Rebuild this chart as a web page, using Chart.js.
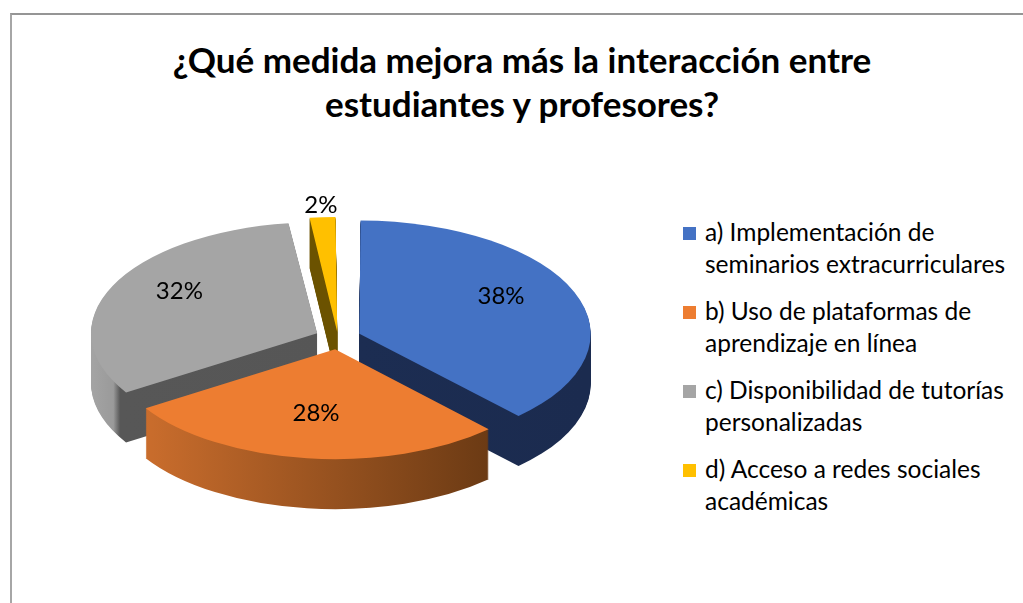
<!DOCTYPE html>
<html>
<head>
<meta charset="utf-8">
<script src="https://cdn.jsdelivr.net/npm/chart.js@4.4.0/dist/chart.umd.min.js"></script>
<style>
html,body{margin:0;padding:0;background:#fff;overflow:hidden;width:1023px;height:603px;}
#frame{position:absolute;left:10px;top:13px;width:1040px;height:620px;border-left:2px solid #a6a6a6;border-top:2px solid #959595;box-sizing:border-box;}
#title{position:absolute;left:10px;width:1024px;top:37px;text-align:center;font-family:Lato,"Open Sans",sans-serif;font-weight:bold;font-size:35px;line-height:44px;color:#000;}
#pieBox{position:absolute;left:38px;top:138px;width:600px;height:400px;}
#legend{position:absolute;left:683px;top:216px;font-family:Lato,"Open Sans",sans-serif;font-size:24.5px;line-height:31.5px;color:#000;}
.item{display:flex;align-items:flex-start;margin-bottom:16px;}
.box{width:13px;height:13px;margin-top:11px;margin-right:9px;flex:none;}
</style>
</head>
<body>
<div id="frame"></div>
<div id="title"></div>
<div id="pieBox"><canvas id="pieChart" width="600" height="400"></canvas></div>
<div id="legend"></div>
<script>
// ======================================
// Data
// ======================================

const titleLines = [
    "¿Qué medida mejora más la interacción entre",
    "estudiantes y profesores?"
];

const categories = [
    ["a) Implementación de", "seminarios extracurriculares"],
    ["b) Uso de plataformas de", "aprendizaje en línea"],
    ["c) Disponibilidad de tutorías", "personalizadas"],
    ["d) Acceso a redes sociales", "académicas"]
];

const percentages = [38, 28, 32, 2];

// ======================================
// Styles
// ======================================

const topColors = ["#4472C4", "#ED7D31", "#A5A5A5", "#FFC000"];

// side wall colours: [stop, colour] along the pie's width
const sideStops = [
    [[0, "#1d2f55"], [1, "#1b2b4f"]],
    [[0, "#d3722f"], [1, "#58300f"]],
    [[0, "#a3a3a3"], [0.045, "#9a9a9a"], [0.06, "#575757"], [1, "#555555"]],
    [[0, "#6b5200"], [1, "#6b5200"]]
];

const explode = [92, 92, 92, 49];
const tilt = 0.49;
const depth = 50;
const pieRadius = 224;
const labelLift = 10;
const labelFont = "24px Lato";

// ======================================
// Title + Legend (HTML)
// ======================================

document.getElementById("title").innerHTML =
    titleLines.join("<br>");

const legendEl = document.getElementById("legend");

categories.forEach((lines, i) => {

    const item = document.createElement("div");
    item.className = "item";

    const box = document.createElement("div");
    box.className = "box";
    box.style.background = topColors[i];

    const txt = document.createElement("div");
    txt.innerHTML = lines.join("<br>");

    item.appendChild(box);
    item.appendChild(txt);
    legendEl.appendChild(item);

});

// ======================================
// 3D pie plugin
// ======================================

function squash(ctx, cx, cy){

    ctx.translate(cx, cy);
    ctx.scale(1, tilt);
    ctx.translate(-cx, -cy);

}

function sideFill(ctx, arc, i){

    const g = ctx.createLinearGradient(
        arc.x - arc.outerRadius, 0,
        arc.x + arc.outerRadius, 0
    );

    sideStops[i].forEach(s => g.addColorStop(s[0], s[1]));

    return g;

}

const pie3d = {

    id: "pie3d",

    beforeDatasetsDraw(chart){

        const ctx = chart.ctx;
        const arcs = chart.getDatasetMeta(0).data;

        for(let d = depth; d >= 1; d--){

            arcs.forEach((arc, i) => {

                ctx.save();
                ctx.translate(0, d);
                squash(ctx, arc.x, arc.y);

                const saved = arc.options;
                arc.options = Object.assign({}, saved, {
                    backgroundColor: sideFill(ctx, arc, i),
                    borderWidth: 0
                });
                arc.draw(ctx);
                arc.options = saved;

                ctx.restore();

            });

        }

        ctx.save();
        squash(ctx, arcs[0].x, arcs[0].y);

    },

    afterDatasetsDraw(chart){

        const ctx = chart.ctx;
        ctx.restore();

        const arcs = chart.getDatasetMeta(0).data;

        ctx.save();
        ctx.font = labelFont;
        ctx.fillStyle = "#000";
        ctx.textAlign = "center";
        ctx.textBaseline = "middle";

        arcs.forEach((arc, i) => {

            const mid = (arc.startAngle + arc.endAngle) / 2;
            const off = (arc.options.offset || 0) / 4;
            const small = percentages[i] < 5;
            const f = small ? 1.16 : 0.68;
            const r = off + f * arc.outerRadius;

            ctx.fillText(
                percentages[i] + "%",
                arc.x + Math.cos(mid) * r,
                arc.y + Math.sin(mid) * r * tilt - (small ? 0 : labelLift)
            );

        });

        ctx.restore();

    }

};

// ======================================
// Chart
// ======================================

new Chart(document.getElementById("pieChart"), {

    type: "pie",

    data: {
        labels: categories,
        datasets: [{
            data: percentages,
            backgroundColor: topColors,
            borderWidth: 0,
            offset: explode
        }]
    },

    options: {
        responsive: false,
        animation: false,
        radius: pieRadius,
        clip: false,
        events: [],
        plugins: {
            legend: { display: false },
            tooltip: { enabled: false }
        }
    },

    plugins: [pie3d]

});
</script>
</body>
</html>
